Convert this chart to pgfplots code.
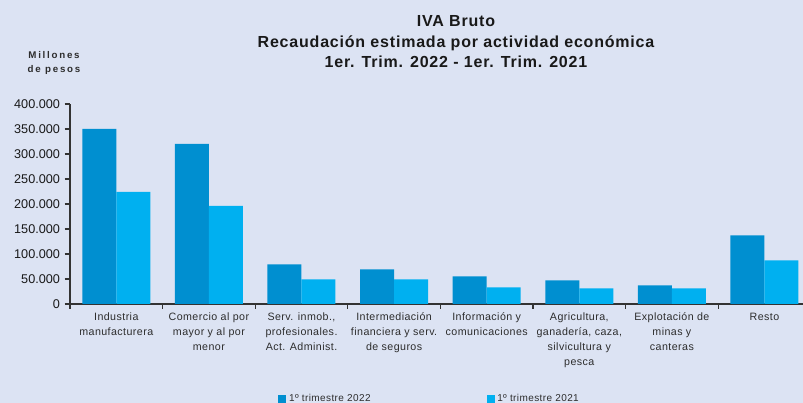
\documentclass[border=0pt]{standalone}
\usepackage{fontspec}
\setmainfont{Liberation Sans}
\usepackage{pgfplots}
\pgfplotsset{compat=1.18}

\definecolor{bg}{RGB}{220,227,243}
\definecolor{dark}{RGB}{0,143,208}
\definecolor{light}{RGB}{0,176,240}
\definecolor{txt}{RGB}{45,45,45}

\begin{document}
\begin{tikzpicture}
% 1px = 0.75pt
\fill[bg] (0,0) rectangle (602.25pt,302.25pt);
\useasboundingbox (0,0) rectangle (602.25pt,302.25pt);

\tikzset{ttl/.style={anchor=base,text=black!90,
  font=\bfseries\fontsize{12}{14}\selectfont\addfontfeature{LetterSpace=5}}}
\node[ttl] at (342pt,282pt) {IVA Bruto};
\node[ttl] at (342pt,266.25pt) {Recaudación estimada por actividad económica};
\node[ttl] at (342pt,251.25pt) {1er. Trim. 2022 - 1er. Trim. 2021};

\node[anchor=base,font=\bfseries\fontsize{7.3}{9}\selectfont\addfontfeature{LetterSpace=18},text=txt] at (40.5pt,258pt) {Millones};
\node[anchor=base,font=\bfseries\fontsize{7.3}{9}\selectfont\addfontfeature{LetterSpace=18},text=txt] at (40.5pt,247.5pt) {de pesos};

\begin{axis}[
  at={(52.5pt,74.25pt)}, anchor=south west,
  width=549.75pt, height=150pt, scale only axis,
  ybar=0pt, bar width=25.5pt,
  xmin=-0.5, xmax=7.416,
  ymin=0, ymax=400000,
  ytick={0,50000,...,400000},
  axis x line*=bottom, axis y line*=left,
  axis line style={draw=black!80, line width=1pt},
  tick style={draw=black!80, line width=1pt},
  tick align=outside,
  major tick length=4pt,
  xtick={0,...,7},
  xticklabels={
    {Industria\\manufacturera},
    {Comercio al por\\mayor y al por\\menor},
    {Serv. inmob.,\\profesionales.\\Act. Administ.},
    {Intermediación\\financiera y serv.\\de seguros},
    {Información y\\comunicaciones},
    {Agricultura,\\ganadería, caza,\\silvicultura y\\pesca},
    {Explotación de\\minas y\\canteras},
    {Resto}},
  x tick style={draw=none},
  minor xtick={-0.5,0.5,...,6.5},
  minor x tick style={draw=black!80, line width=1pt},
  minor tick length=3.5pt,
  x tick label style={align=center, text=txt, font=\fontsize{8}{11.25}\selectfont\addfontfeature{LetterSpace=4}, yshift=1pt},
  y tick label style={text=black!90, font=\fontsize{9.5}{11}\selectfont},
  /pgf/number format/assume math mode=true,
  /pgf/number format/.cd, 1000 sep={.}, fixed, /pgfplots/.cd,
  scaled y ticks=false,
  legend columns=2,
  legend style={at={(0.284,-0.475)}, anchor=west, draw=none, fill=none,
    inner sep=0pt, font=\fontsize{7.5}{9}\selectfont\addfontfeature{LetterSpace=4}, text=txt},
  /tikz/every even column/.append style={column sep=85pt},
  legend image code/.code={\fill[#1] (0pt,-3pt) rectangle (6pt,3pt);},
]
\addplot[fill=dark, draw=none] coordinates {
  (0,350000) (1,320000) (2,79000) (3,69000) (4,55000) (5,47000) (6,37000) (7,137000)};
\addplot[fill=light, draw=none] coordinates {
  (0,224000) (1,196000) (2,49000) (3,49000) (4,33000) (5,31000) (6,31000) (7,87000)};
\legend{1º trimestre 2022, 1º trimestre 2021}
\end{axis}
\end{tikzpicture}
\end{document}
